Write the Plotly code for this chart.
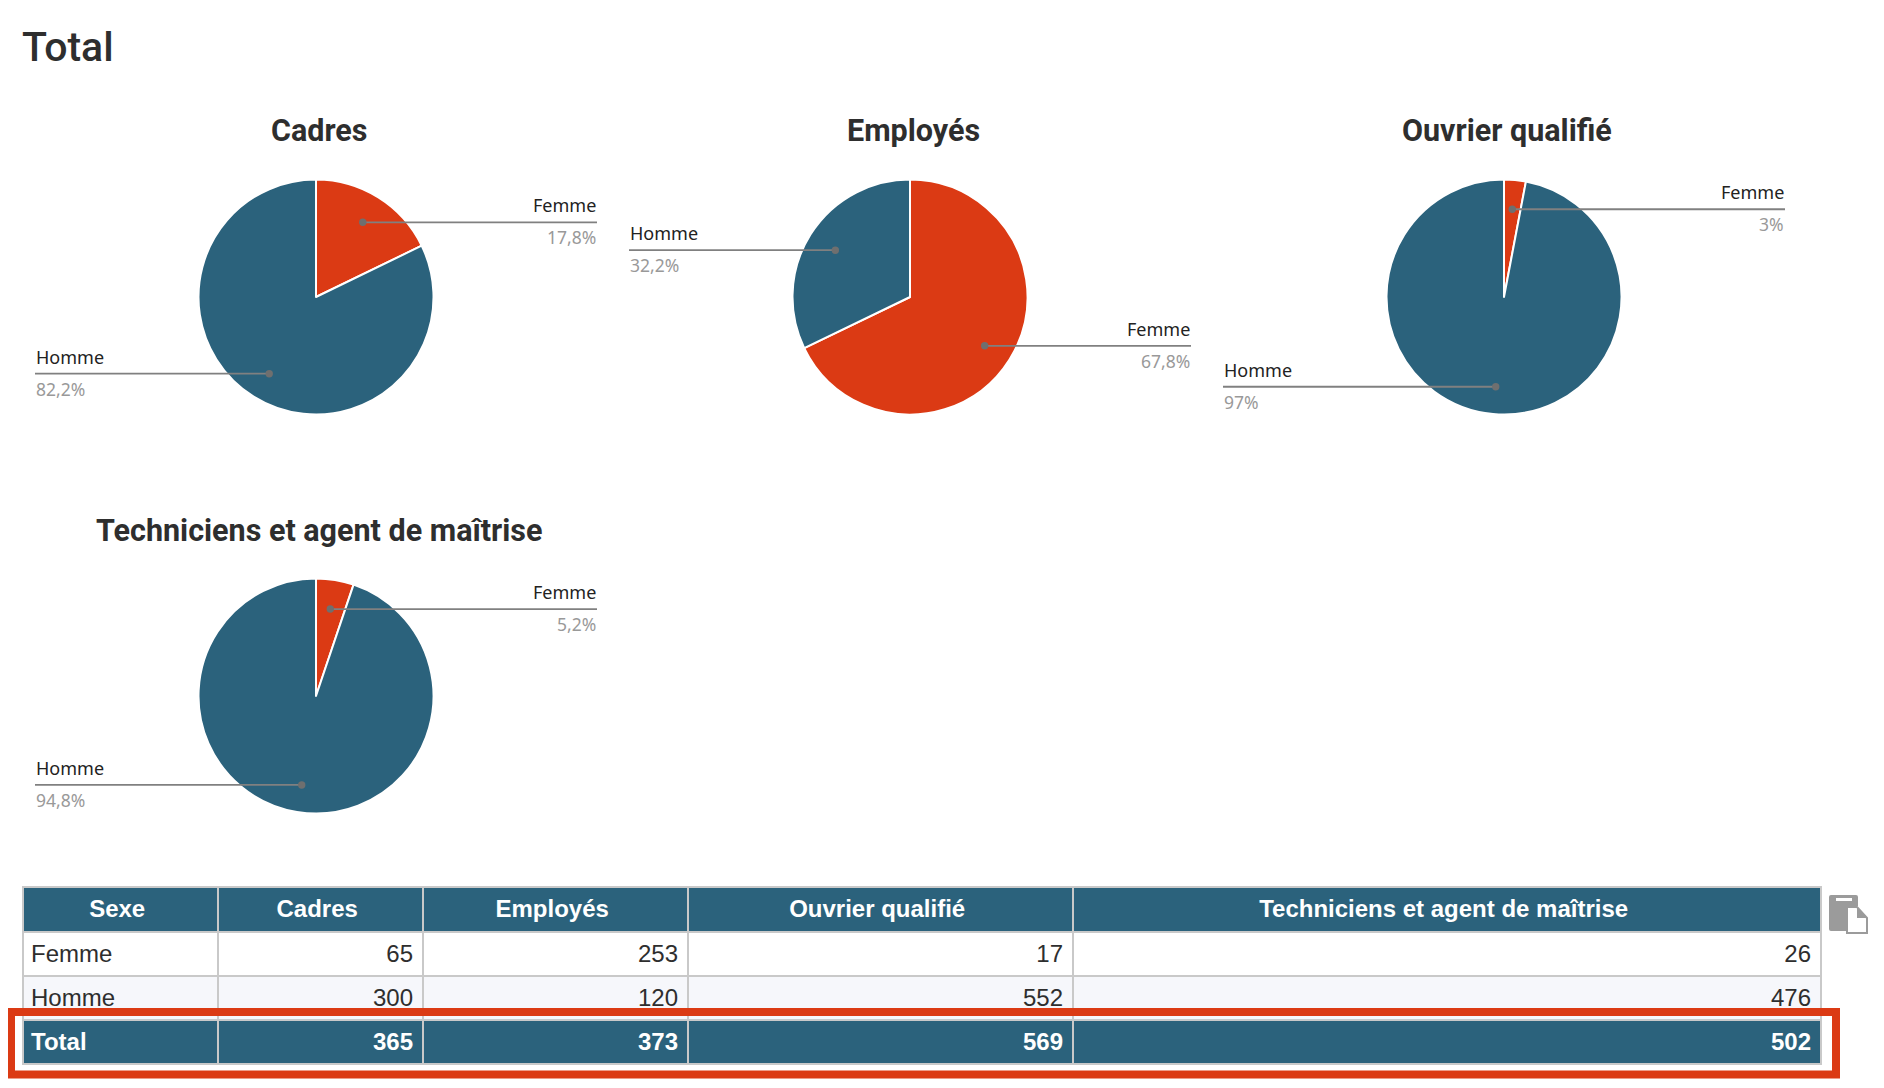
import math
import plotly.graph_objects as go

categories = ["Cadres", "Employés", "Ouvrier qualifié", "Techniciens et agent de maîtrise"]
femme = [65, 253, 17, 26]
homme = [300, 120, 552, 476]
total = [365, 373, 569, 502]
pct_femme = ["17,8%", "67,8%", "3%", "5,2%"]
pct_homme = ["82,2%", "32,2%", "97%", "94,8%"]

# The page keeps an 8 px body margin: the figure is placed inside it and the
# axes are ranged so that the values below are full-page pixel positions.
W, H = 1884, 1088
OFF = 8
FW, FH = W - 2 * OFF, H - 2 * OFF
BLUE, RED = "#2b627c", "#db3a14"
GRID = "#c9c9c9"
TXT = "#2e2e2e"
centers = [(316, 297), (910, 297), (1504, 297), (316, 696)]
R = 117.5
REACH = 281
title_x = [319, 913, 1507, 319]
title_y = [130, 130, 130, 530]
LABEL_FONT = "Noto Sans"


def fx(v):
    return (v - OFF) / FW


def fy(v):
    return 1 - (v - OFF) / FH


fig = go.Figure()
annots = [dict(x=19.5, y=47, text="Total", xref="x", yref="y", xanchor="left", yanchor="middle",
               showarrow=False, font=dict(family="Roboto", size=41, color=TXT, weight=500))]
shapes = []

for i, cat in enumerate(categories):
    cx, cy = centers[i]
    fig.add_trace(go.Pie(
        labels=["Femme", "Homme"], values=[femme[i], homme[i]], sort=False,
        direction="clockwise", rotation=0, textinfo="none", hoverinfo="label+percent",
        marker=dict(colors=[RED, BLUE], line=dict(color="white", width=2)),
        domain=dict(x=[fx(cx - R), fx(cx + R)], y=[fy(cy + R), fy(cy - R)]),
        showlegend=False,
    ))
    annots.append(dict(x=title_x[i], y=title_y[i], text=f"<b>{cat}</b>", xref="x", yref="y",
                       showarrow=False, font=dict(family="Roboto", size=30.5, color=TXT)))
    # leader lines derived from each slice's mid angle
    start = 0.0
    for name, val, pct in (("Femme", femme[i], pct_femme[i]), ("Homme", homme[i], pct_homme[i])):
        frac = val / total[i]
        mid = (start + frac / 2) * 2 * math.pi
        start += frac
        px = cx + 0.75 * R * math.sin(mid)
        py = cy - 0.75 * R * math.cos(mid)
        if math.cos(mid) < 0:
            py += 2
        right = math.sin(mid) > 0
        ex = cx + (REACH if right else -REACH)
        shapes.append(dict(type="line", xref="x", yref="y", x0=px, x1=ex, y0=py, y1=py, layer="above",
                           line=dict(color="#808080", width=1.8)))
        shapes.append(dict(type="circle", xref="x", yref="y", x0=px - 3.7, x1=px + 3.7, y0=py - 3.7, y1=py + 3.7,
                           layer="above", fillcolor="#6f6f6f", line=dict(width=0)))
        anchor = "right" if right else "left"
        tx = ex + (1 if right else -1)
        annots.append(dict(x=tx, y=py - 17, text=name, xref="x", yref="y", xanchor=anchor,
                           showarrow=False, font=dict(family=LABEL_FONT, size=18, color="#222222")))
        annots.append(dict(x=tx, y=py + 15, text=pct, xref="x", yref="y", xanchor=anchor,
                           showarrow=False, font=dict(family=LABEL_FONT, size=17.5, color="#999999")))

FS = 24
HAIR = "\u200a"


def body(v):
    return f"<span>{v}{HAIR}</span>"


def strong(v):
    return f"<b>{v}{HAIR}</b>"


cols = [["<span>Femme</span>", "<span>Homme</span>", "<b>Total</b>"]]
for j in range(4):
    cols.append([body(femme[j]), body(homme[j]), strong(total[j])])
headers = [f"<b>{c}\u00a0</b>" for c in ["Sexe"] + categories]
fills = ["#ffffff", "#f6f7fb", BLUE]
fcols = [TXT, TXT, "#ffffff"]
col_edges = [23, 218, 423, 688, 1073, 1821]
fig.add_trace(go.Table(
    domain=dict(x=[fx(23), fx(1821)], y=[fy(1066), fy(887)]),
    columnwidth=[b - a for a, b in zip(col_edges, col_edges[1:])],
    header=dict(values=headers, height=45, align="center",
                fill_color=BLUE, line=dict(color=GRID, width=2),
                font=dict(family="Liberation Sans", size=FS, color="white")),
    cells=dict(values=cols, height=44, align=["left", "right", "right", "right", "right"],
               fill_color=[fills] * 5, line=dict(color=GRID, width=2),
               font=dict(family="Liberation Sans", size=FS, color=[fcols] * 5)),
))

ICON = "#9b9b9b"
shapes += [
    dict(type="rect", xref="x", yref="y", x0=11, x1=1836, y0=1012, y1=1074.5,
         line=dict(color=RED, width=8), fillcolor="rgba(0,0,0,0)", layer="above"),
    dict(type="path", xref="x", yref="y", layer="above", fillcolor=ICON, line=dict(width=0),
         path="M 1829 897 Q 1829 895 1831 895 L 1856 895 Q 1858 895 1858 897 L 1858 906 L 1847 906 L 1847 931 L 1831 931 Q 1829 931 1829 929 Z"),
    dict(type="rect", xref="x", yref="y", layer="above", fillcolor="white", line=dict(width=0),
         x0=1836, x1=1852, y0=898, y1=901),
    dict(type="path", xref="x", yref="y", layer="above", fillcolor="white",
         line=dict(color=ICON, width=2),
         path="M 1847 907 L 1857 907 L 1867 918 L 1867 933 L 1847 933 Z"),
    dict(type="path", xref="x", yref="y", layer="above", fillcolor=ICON, line=dict(width=0),
         path="M 1857 907 L 1867 918 L 1857 918 Z"),
]

fig.update_layout(
    width=FW, height=FH, margin=dict(l=0, r=0, t=0, b=0), paper_bgcolor="white", plot_bgcolor="white",
    xaxis=dict(range=[OFF, OFF + FW], visible=False, fixedrange=True, domain=[0, 1]),
    yaxis=dict(range=[OFF + FH, OFF], visible=False, fixedrange=True, domain=[0, 1]),
    annotations=annots, shapes=shapes, showlegend=False,
)
fig.write_html("out.html", config=dict(displayModeBar=False))
